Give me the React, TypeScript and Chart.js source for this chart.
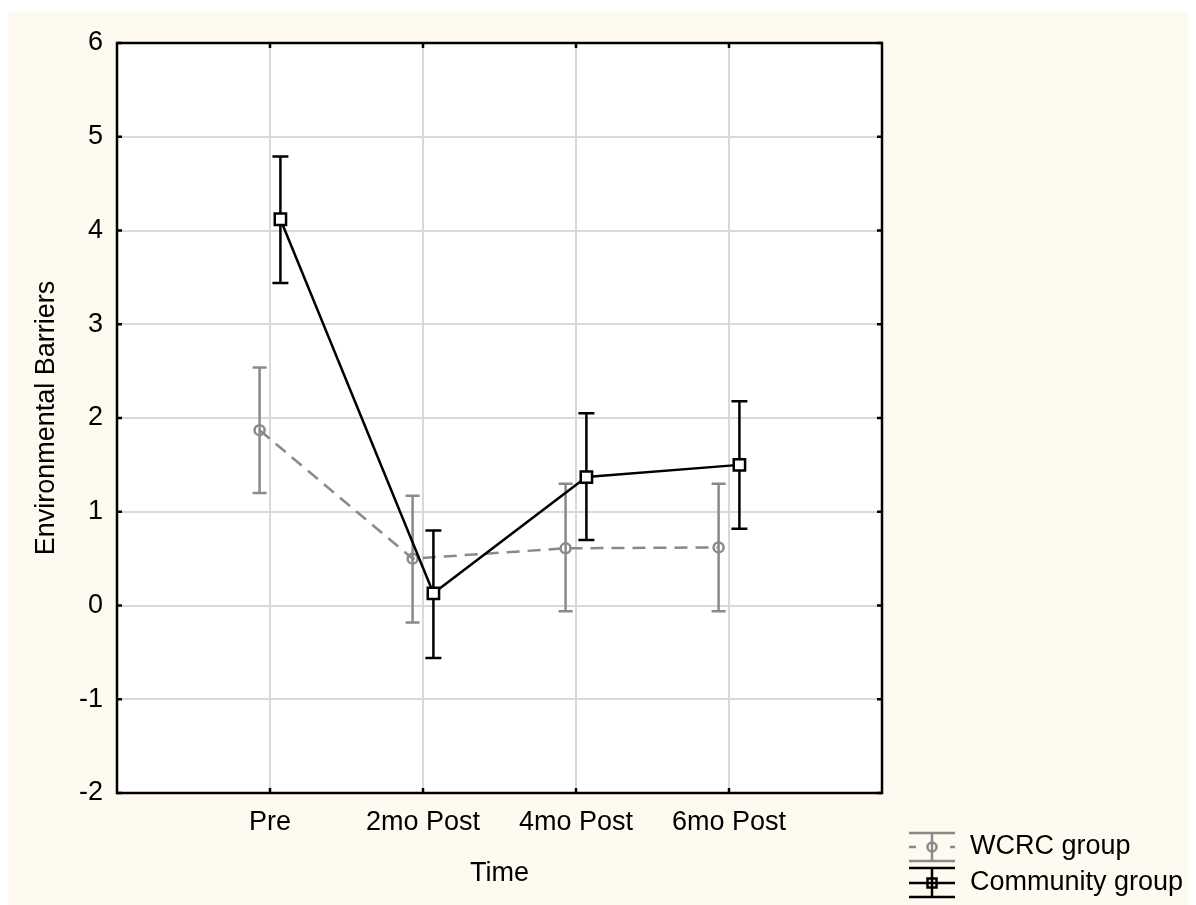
import React, { useEffect, useRef } from "react";
import { Chart, registerables } from "chart.js";

Chart.register(...registerables);

// ---- data ----
const categories = ["Pre", "2mo Post", "4mo Post", "6mo Post"];
const yTickValues = [-2, -1, 0, 1, 2, 3, 4, 5, 6];
const seriesNames = ["WCRC group", "Community group"];
const wcrcMean = [1.87, 0.5, 0.61, 0.62];
const wcrcLow = [1.2, -0.18, -0.06, -0.06];
const wcrcHigh = [2.54, 1.17, 1.3, 1.3];
const communityMean = [4.12, 0.13, 1.37, 1.5];
const communityLow = [3.44, -0.56, 0.7, 0.82];
const communityHigh = [4.79, 0.8, 2.05, 2.18];

// ---- style ----
const FONT = "'Liberation Sans', Arial, sans-serif";
const FONT_SIZE = 27;
const GRAY = "#8a8a8a";
const BLACK = "#000000";
const CREAM = "#fffaf0";
const GRID = "#d9d9d9";
const OFFSET = 0.068;
const LW = 2.5;

const errorSpecs = [
  { low: wcrcLow, high: wcrcHigh, color: GRAY, cap: 7 },
  { low: communityLow, high: communityHigh, color: BLACK, cap: 8 },
];

const customPlugin = {
  id: "custom",
  beforeDraw(chart: any) {
    const { ctx, chartArea: a, width, height } = chart;
    ctx.save();
    ctx.fillStyle = CREAM;
    ctx.fillRect(0, 0, width, height);
    ctx.fillStyle = "#ffffff";
    ctx.fillRect(a.left, a.top, a.right - a.left, a.bottom - a.top);
    ctx.restore();
  },
  beforeDatasetDraw(chart: any, args: any) {
    const spec = errorSpecs[args.index];
    if (!spec) return;
    const { ctx } = chart;
    const ys = chart.scales.y;
    ctx.save();
    ctx.strokeStyle = spec.color;
    ctx.lineWidth = LW;
    ctx.setLineDash([]);
    args.meta.data.forEach((pt: any, i: number) => {
      const x = pt.x;
      const yl = ys.getPixelForValue(spec.low[i]);
      const yh = ys.getPixelForValue(spec.high[i]);
      ctx.beginPath();
      ctx.moveTo(x, yl);
      ctx.lineTo(x, yh);
      ctx.moveTo(x - spec.cap, yl);
      ctx.lineTo(x + spec.cap, yl);
      ctx.moveTo(x - spec.cap, yh);
      ctx.lineTo(x + spec.cap, yh);
      ctx.stroke();
    });
    ctx.restore();
  },
  afterDraw(chart: any) {
    const { ctx, chartArea: a } = chart;
    const xs = chart.scales.x;
    const ys = chart.scales.y;
    ctx.save();
    ctx.strokeStyle = BLACK;
    ctx.lineWidth = LW;
    ctx.setLineDash([]);
    ctx.strokeRect(a.left, a.top, a.right - a.left, a.bottom - a.top);
    const tl = 5;
    ctx.beginPath();
    yTickValues.forEach((v) => {
      const y = ys.getPixelForValue(v);
      ctx.moveTo(a.left, y);
      ctx.lineTo(a.left + tl, y);
      ctx.moveTo(a.right, y);
      ctx.lineTo(a.right - tl, y);
    });
    categories.forEach((_, i) => {
      const x = xs.getPixelForValue(i + 1);
      ctx.moveTo(x, a.bottom);
      ctx.lineTo(x, a.bottom - tl);
      ctx.moveTo(x, a.top);
      ctx.lineTo(x, a.top + tl);
    });
    ctx.stroke();

    // legend
    const sx = 901;
    const ex = 947;
    const cx = 924;
    ctx.font = `${FONT_SIZE}px ${FONT}`;
    ctx.textBaseline = "middle";
    ctx.textAlign = "left";

    // WCRC
    let cy = 835;
    ctx.strokeStyle = GRAY;
    ctx.lineWidth = LW;
    ctx.beginPath();
    ctx.moveTo(sx, cy - 14);
    ctx.lineTo(ex, cy - 14);
    ctx.moveTo(sx, cy + 14);
    ctx.lineTo(ex, cy + 14);
    ctx.moveTo(cx, cy - 14);
    ctx.lineTo(cx, cy + 14);
    ctx.moveTo(sx, cy);
    ctx.lineTo(sx + 7, cy);
    ctx.moveTo(ex - 5, cy);
    ctx.lineTo(ex, cy);
    ctx.stroke();
    ctx.beginPath();
    ctx.arc(cx, cy, 4.5, 0, Math.PI * 2);
    ctx.stroke();
    ctx.fillStyle = BLACK;
    ctx.fillText(seriesNames[0], 962, cy);

    // Community
    cy = 871;
    ctx.strokeStyle = BLACK;
    ctx.beginPath();
    ctx.moveTo(sx, cy - 15);
    ctx.lineTo(ex, cy - 15);
    ctx.moveTo(sx, cy + 14);
    ctx.lineTo(ex, cy + 14);
    ctx.moveTo(cx, cy - 15);
    ctx.lineTo(cx, cy + 14);
    ctx.moveTo(sx, cy);
    ctx.lineTo(ex, cy);
    ctx.stroke();
    ctx.strokeRect(cx - 4.5, cy - 4.5, 9, 9);
    ctx.fillText(seriesNames[1], 962, cy);
    ctx.restore();
  },
};

export default function App() {
  const canvasRef = useRef<HTMLCanvasElement | null>(null);

  useEffect(() => {
    document.documentElement.style.overflow = "hidden";
    const canvas = canvasRef.current;
    if (!canvas) return;
    const chart = new Chart(canvas, {
      type: "line",
      data: {
        datasets: [
          {
            label: seriesNames[0],
            data: wcrcMean.map((v, i) => ({ x: i + 1 - OFFSET, y: v })),
            borderColor: GRAY,
            borderWidth: LW,
            borderDash: [13, 8],
            pointStyle: "circle",
            pointRadius: 5,
            pointBorderWidth: LW,
            pointBorderColor: GRAY,
            pointBackgroundColor: "rgba(0,0,0,0)",
            fill: false,
            tension: 0,
            order: 2,
          },
          {
            label: seriesNames[1],
            data: communityMean.map((v, i) => ({ x: i + 1 + OFFSET, y: v })),
            borderColor: BLACK,
            borderWidth: LW,
            pointStyle: "rect",
            pointRadius: 8,
            pointBorderWidth: LW,
            pointBorderColor: BLACK,
            pointBackgroundColor: "#ffffff",
            fill: false,
            tension: 0,
            order: 1,
          },
        ],
      },
      options: {
        responsive: false,
        animation: false,
        events: [],
        layout: { padding: { left: 0, right: 314, top: 31, bottom: 0 } },
        plugins: {
          legend: { display: false },
          tooltip: { enabled: false },
        },
        scales: {
          x: {
            type: "linear",
            min: 0,
            max: 5,
            afterBuildTicks: (scale: any) => {
              scale.ticks = categories.map((_, i) => ({ value: i + 1 }));
            },
            afterFit: (scale: any) => {
              scale.height = 112;
            },
            ticks: {
              autoSkip: false,
              maxRotation: 0,
              padding: 13,
              color: BLACK,
              font: { family: FONT, size: FONT_SIZE },
              callback: (value: any) => categories[Math.round(value) - 1] ?? "",
            },
            grid: { color: GRID, lineWidth: 2, drawTicks: false },
            border: { display: false },
            title: {
              display: true,
              text: "Time",
              color: BLACK,
              font: { family: FONT, size: FONT_SIZE },
              padding: { top: 0, bottom: 15 },
            },
          },
          y: {
            type: "linear",
            min: -2,
            max: 6,
            afterBuildTicks: (scale: any) => {
              scale.ticks = yTickValues.map((v) => ({ value: v }));
            },
            afterFit: (scale: any) => {
              scale.width = 109;
            },
            ticks: {
              padding: 14,
              color: BLACK,
              font: { family: FONT, size: FONT_SIZE },
              callback: (value: any) => String(value),
            },
            grid: { color: GRID, lineWidth: 2, drawTicks: false },
            border: { display: false },
            title: {
              display: true,
              text: "Environmental Barriers",
              color: BLACK,
              font: { family: FONT, size: FONT_SIZE },
              padding: { top: 22, bottom: 0 },
            },
          },
        },
      },
      plugins: [customPlugin],
    });
    return () => {
      chart.destroy();
    };
  }, []);

  return (
    <div style={{ paddingTop: 4 }}>
      <canvas
        ref={canvasRef}
        width={1188}
        height={893}
        style={{ display: "block", width: 1188, height: 893 }}
      />
    </div>
  );
}
